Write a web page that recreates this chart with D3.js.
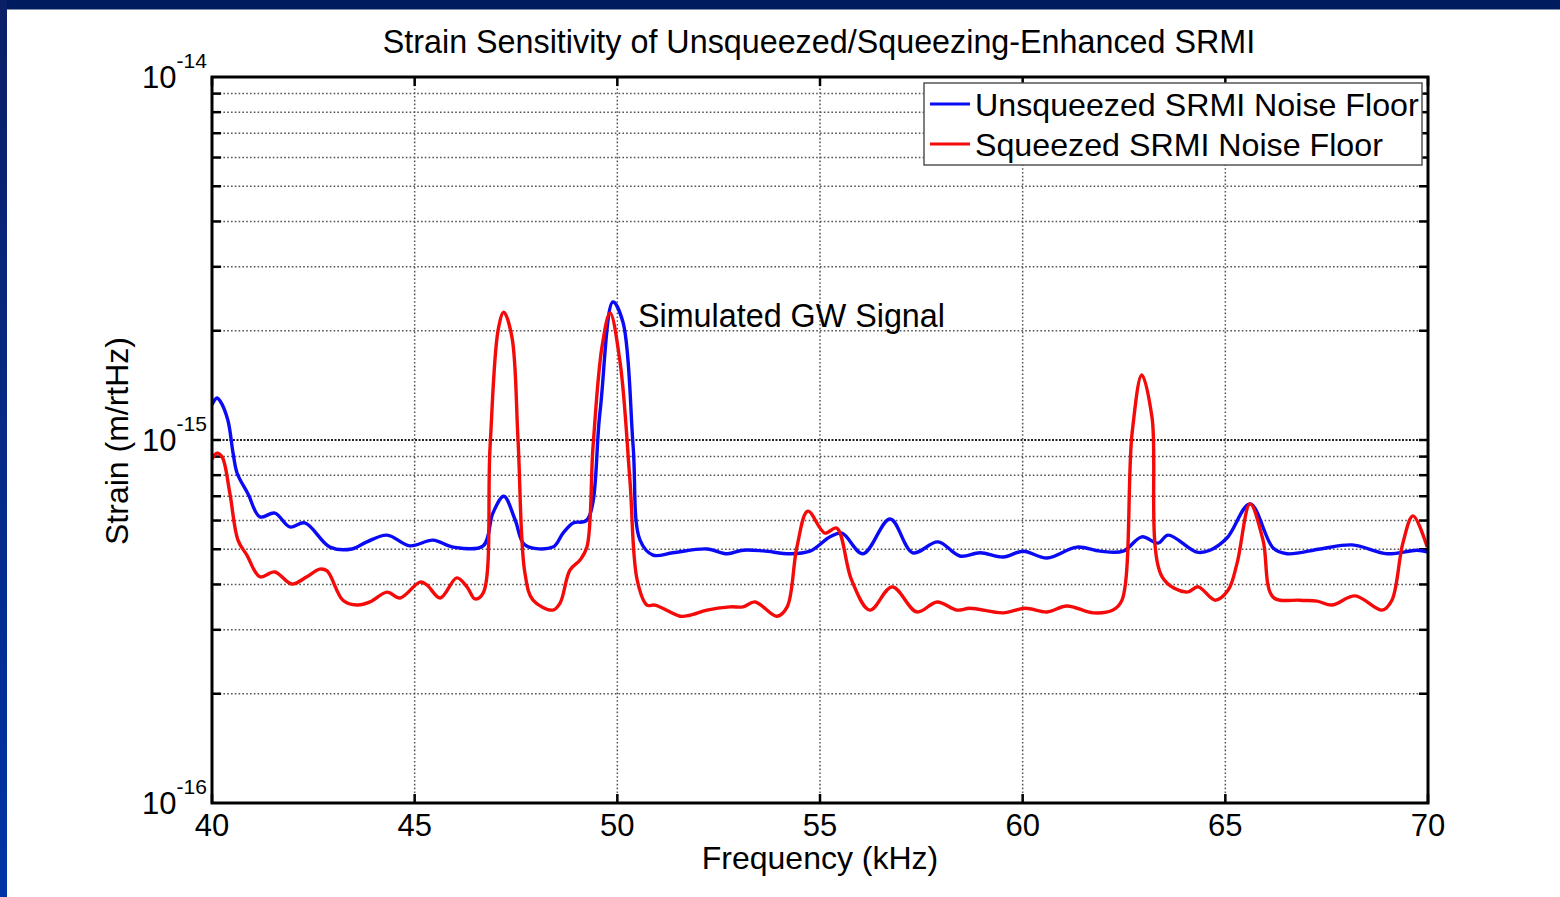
<!DOCTYPE html>
<html><head><meta charset="utf-8">
<script src="https://cdn.jsdelivr.net/npm/d3@7"></script>
<style>body{margin:0;background:#fff}svg{display:block;font-family:"Liberation Sans",Arial,sans-serif}</style>
</head><body>
<script>
// Frequencies (kHz) and strain values (units of 1e-16 m/rtHz)
const blueFreq = [40.00,40.12,40.20,40.39,40.52,40.62,40.89,41.18,41.55,41.92,42.29,42.91,43.45,43.82,44.32,44.88,45.45,45.95,46.69,46.93,47.20,47.48,47.72,48.41,48.66,48.91,49.25,49.57,49.89,50.14,50.39,50.56,50.88,51.37,52.21,52.71,53.10,53.60,54.26,54.75,55.25,55.54,56.06,56.73,57.29,57.91,58.45,58.95,59.52,60.01,60.60,61.34,61.91,62.48,62.94,63.34,63.59,64.30,64.62,65.04,65.61,66.18,66.52,67.34,68.13,68.99,69.73,70.00];
const blueVal  = [12.5,13.05,12.8,11.35,9.2,8.1,7.1,6.14,6.29,5.76,5.91,5.07,5.01,5.24,5.47,5.11,5.30,5.07,5.11,6.29,7.0,6.02,5.14,5.07,5.54,5.91,6.02,11.87,24.0,21.1,9.6,5.30,4.82,4.89,5.01,4.86,4.97,4.95,4.86,4.94,5.41,5.54,4.86,6.06,4.89,5.24,4.79,4.89,4.76,4.94,4.73,5.07,4.94,4.94,5.41,5.20,5.47,4.91,4.97,5.37,6.67,5.04,4.86,5.01,5.14,4.86,4.97,4.91];
const redFreq  = [40.00,40.12,40.25,40.44,40.64,40.86,41.18,41.55,41.97,42.34,42.66,42.84,43.23,43.58,43.90,44.32,44.64,45.13,45.30,45.63,46.04,46.29,46.49,46.69,46.86,47.06,47.20,47.40,47.55,47.72,47.92,48.41,48.59,48.83,49.08,49.25,49.40,49.62,49.82,50.07,50.31,50.49,50.73,50.93,51.55,51.79,52.21,52.78,53.10,53.40,53.94,54.19,54.43,54.70,55.12,55.41,55.78,56.23,56.78,57.39,57.89,58.38,58.70,59.52,60.06,60.60,61.09,61.74,62.23,62.45,62.70,62.94,63.19,63.44,64.05,64.33,64.75,65.07,65.29,65.61,65.93,66.18,66.84,67.26,67.63,68.20,68.87,69.11,69.38,69.63,69.98];
const redVal   = [8.85,9.2,8.98,7.14,5.30,4.82,4.20,4.33,4.01,4.20,4.41,4.36,3.62,3.51,3.58,3.81,3.67,4.06,3.99,3.67,4.17,3.94,3.65,3.79,9.57,20.1,22.5,19.2,10.0,4.30,3.62,3.40,3.56,4.38,4.67,5.07,9.57,18.0,22.4,16.3,7.76,4.11,3.51,3.51,3.27,3.29,3.40,3.47,3.47,3.58,3.27,3.47,5.07,6.37,5.54,5.72,4.11,3.40,3.94,3.36,3.58,3.40,3.44,3.34,3.44,3.36,3.49,3.34,3.40,3.62,10.45,15.1,11.57,4.20,3.81,3.94,3.62,3.86,4.58,6.67,5.30,3.69,3.62,3.60,3.51,3.72,3.40,3.62,5.20,6.18,5.07];
const xTicks = [40,45,50,55,60,65,70];
const yMajor = [1e-16,1e-15,1e-14];
const yMajorExp = ["-16","-15","-14"];
const seriesNames = ["Unsqueezed SRMI Noise Floor","Squeezed SRMI Noise Floor"];
const seriesColors = ["#0a0af5","#f50a0a"];
const titleText = "Strain Sensitivity of Unsqueezed/Squeezing-Enhanced SRMI";
const xLabel = "Frequency (kHz)";
const yLabel = "Strain (m/rtHz)";
const annotation = {text:"Simulated GW Signal", f:50.5, v:2.0e-15};

const W=1560,H=897;
const svg=d3.select("body").append("svg").attr("width",W).attr("height",H);
const defs=svg.append("defs");
const g1=defs.append("linearGradient").attr("id","lg").attr("x1",0).attr("y1",0).attr("x2",0).attr("y2",1);
g1.append("stop").attr("offset","0%").attr("stop-color","#0a1f66");
g1.append("stop").attr("offset","100%").attr("stop-color","#0034a6");
svg.append("rect").attr("width",W).attr("height",H).attr("fill","#fff");
svg.append("rect").attr("x",0).attr("y",0).attr("width",W).attr("height",9.5).attr("fill","#001c5e");
svg.append("rect").attr("x",0).attr("y",0).attr("width",7).attr("height",H).attr("fill","url(#lg)");

const L=212,R=1428,T=77,B=803;
const x=d3.scaleLinear().domain([40,70]).range([L,R]);
const y=d3.scaleLog().domain([1e-16,1e-14]).range([B,T]);

// minor log positions
const yMinor=[];
for(const dec of [1e-16,1e-15]) for(let k=2;k<=9;k++) yMinor.push(k*dec);

const grid=svg.append("g");
grid.selectAll(".hg").data(yMinor).enter().append("line")
 .attr("x1",L).attr("x2",R).attr("y1",d=>y(d)).attr("y2",d=>y(d))
 .attr("stroke","#555").attr("stroke-width",1.5).attr("stroke-dasharray","1.6,2.2");
grid.append("line").attr("x1",L).attr("x2",R).attr("y1",y(1e-15)).attr("y2",y(1e-15))
 .attr("stroke","#222").attr("stroke-width",1.8).attr("stroke-dasharray","2,1.5");
grid.selectAll(".vg").data(xTicks.slice(1,-1)).enter().append("line")
 .attr("x1",d=>x(d)).attr("x2",d=>x(d)).attr("y1",T).attr("y2",B)
 .attr("stroke","#555").attr("stroke-width",1.5).attr("stroke-dasharray","1.6,2.2");

// inside ticks
const tk=svg.append("g").attr("stroke","#000").attr("stroke-width",2.5);
const allY=yMinor.concat([1e-15]);
allY.forEach(v=>{
  tk.append("line").attr("x1",L).attr("x2",L+9).attr("y1",y(v)).attr("y2",y(v));
  tk.append("line").attr("x1",R-9).attr("x2",R).attr("y1",y(v)).attr("y2",y(v));
});
xTicks.forEach(v=>{
  tk.append("line").attr("x1",x(v)).attr("x2",x(v)).attr("y1",B).attr("y2",B-9);
  tk.append("line").attr("x1",x(v)).attr("x2",x(v)).attr("y1",T).attr("y2",T+9);
});

// lines
const line=d3.line().x(d=>x(d[0])).y(d=>y(d[1]*1e-16)).curve(d3.curveCatmullRom.alpha(0.5));
defs.append("clipPath").attr("id","pc").append("rect").attr("x",L).attr("y",T).attr("width",R-L).attr("height",B-T);
const series=[d3.zip(blueFreq,blueVal), d3.zip(redFreq,redVal)];
const pl=svg.append("g").attr("clip-path","url(#pc)");
pl.selectAll("path").data(series).enter().append("path")
 .attr("d",line).attr("fill","none").attr("stroke",(d,i)=>seriesColors[i])
 .attr("stroke-width",3.4).attr("stroke-linejoin","round");

// frame
svg.append("rect").attr("x",L).attr("y",T).attr("width",R-L).attr("height",B-T)
 .attr("fill","none").attr("stroke","#000").attr("stroke-width",3);

// x tick labels
svg.append("g").selectAll("text").data(xTicks).enter().append("text")
 .attr("x",d=>x(d)).attr("y",836).attr("text-anchor","middle")
 .attr("font-size",31).attr("fill","#000").text(d=>d);

// y tick labels
const yl=svg.append("g");
yMajor.forEach((v,i)=>{
  const t=yl.append("text").attr("x",142).attr("y",y(v)+11).attr("font-size",31).attr("fill","#000");
  t.append("tspan").text("10");
  t.append("tspan").attr("dy",-20).attr("font-size",21).text(yMajorExp[i]);
});

// title & labels
svg.append("text").attr("x",819).attr("y",53).attr("text-anchor","middle").attr("font-size",32.3).attr("fill","#000").text(titleText);
svg.append("text").attr("x",820).attr("y",869).attr("text-anchor","middle").attr("font-size",32).attr("fill","#000").text(xLabel);
svg.append("text").attr("transform","translate(128,441) rotate(-90)").attr("text-anchor","middle").attr("font-size",32).attr("fill","#000").text(yLabel);

// annotation
svg.append("text").attr("x",638).attr("y",327).attr("font-size",32.3).attr("fill","#000").text(annotation.text);

// legend
const lg=svg.append("g");
lg.append("rect").attr("x",924).attr("y",83).attr("width",498).attr("height",82).attr("fill","#fff").attr("stroke","#555").attr("stroke-width",1.5);
seriesNames.forEach((n,i)=>{
  const yy=104+i*40;
  lg.append("line").attr("x1",930).attr("x2",970).attr("y1",yy).attr("y2",yy).attr("stroke",seriesColors[i]).attr("stroke-width",3);
  lg.append("text").attr("x",975).attr("y",yy+12).attr("font-size",32.2).attr("fill","#000").text(n);
});
</script>
</body></html>
